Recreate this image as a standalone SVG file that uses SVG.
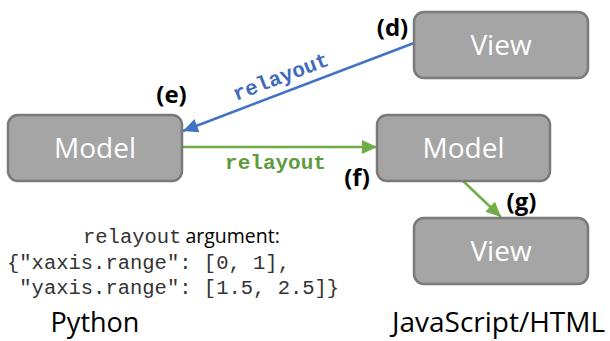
<svg xmlns="http://www.w3.org/2000/svg" width="610" height="341" viewBox="0 0 610 341">
<style>
.box{fill:#a5a5a5;stroke:#7a7a7a;stroke-width:2.5}
.bt{font-family:"Open Sans","Noto Sans",sans-serif;font-size:28px;fill:#ffffff;text-anchor:middle}
.lab{font-family:"Open Sans","Noto Sans",sans-serif;font-size:24px;font-weight:bold;fill:#000;text-anchor:middle}
.mono{font-family:"Liberation Mono","Courier New",monospace;font-size:20.5px;fill:#333}
.edge{font-family:"Liberation Mono","Courier New",monospace;font-size:21px;font-weight:bold;text-anchor:middle}
.sans{font-family:"Open Sans","Noto Sans",sans-serif;fill:#000}
</style>
<defs>
<marker id="ab" markerUnits="userSpaceOnUse" markerWidth="16" markerHeight="16" refX="15" refY="7" orient="auto">
<path d="M0,0 L15,7 L0,14 Z" fill="#4472c4"/>
</marker>
<marker id="ag" markerUnits="userSpaceOnUse" markerWidth="16" markerHeight="16" refX="15" refY="7" orient="auto">
<path d="M0,0 L15,7 L0,14 Z" fill="#70ad47"/>
</marker>
</defs>
<g id="connectors">
<line x1="414" y1="43" x2="183" y2="131" stroke="#4472c4" stroke-width="2.5" marker-end="url(#ab)"/>
<text class="edge" x="283" y="83" fill="#3f6bba" transform="rotate(-20.85 283 83)">relayout</text>
<line x1="182" y1="147" x2="377" y2="147" stroke="#70ad47" stroke-width="2.5" marker-end="url(#ag)"/>
<text class="edge" x="275.5" y="169" fill="#5f9a3e">relayout</text>
<line x1="463" y1="181" x2="501" y2="217" stroke="#70ad47" stroke-width="2.5" marker-end="url(#ag)"/>
</g>
<g id="view-top">
<rect class="box" x="414" y="12" width="174" height="66" rx="10"/>
<text class="bt" x="501" y="55">View</text>
</g>
<g id="model-left">
<rect class="box" x="8" y="115" width="174" height="66" rx="10"/>
<text class="bt" x="95" y="158">Model</text>
</g>
<g id="model-right">
<rect class="box" x="377" y="115" width="173" height="66" rx="10"/>
<text class="bt" x="463.5" y="158">Model</text>
</g>
<g id="view-bottom">
<rect class="box" x="414" y="218" width="174" height="66" rx="10"/>
<text class="bt" x="501" y="261">View</text>
</g>
<g id="labels">
<text class="lab" x="392.5" y="36">(d)</text>
<text class="lab" x="171.5" y="103">(e)</text>
<text class="lab" x="357" y="186">(f)</text>
<text class="lab" x="521.5" y="210">(g)</text>
</g>
<g id="argument">
<text x="83" y="243"><tspan class="mono">relayout</tspan><tspan class="sans" font-size="19.5" dx="4">argument:</tspan></text>
<text class="mono" x="7" y="269">{"xaxis.range": [0, 1],</text>
<text class="mono" x="7" y="294" xml:space="preserve"> "yaxis.range": [1.5, 2.5]}</text>
</g>
<g id="titles">
<text class="sans" x="95" y="332" font-size="27" text-anchor="middle">Python</text>
<text class="sans" x="498.5" y="332" font-size="28" text-anchor="middle">JavaScript/HTML</text>
</g>
</svg>
